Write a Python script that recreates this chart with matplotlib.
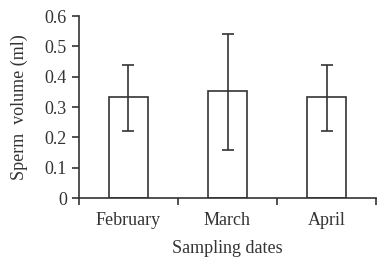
import numpy as np
import matplotlib.pyplot as plt

months = ["February", "March", "April"]
volume = [0.333, 0.353, 0.333]
err_low = [0.113, 0.193, 0.113]
err_high = [0.107, 0.187, 0.107]

plt.rcParams['font.family'] = ['Liberation Serif', 'DejaVu Serif']
plt.rcParams['font.size'] = 13

fig = plt.figure(figsize=(3.83, 2.6), dpi=100)
ax = fig.add_axes([0.206, 0.238, 0.776, 0.70])

x = np.arange(len(months))
ax.bar(x, volume, width=0.4, color='white', edgecolor='#333333', linewidth=1.2,
       yerr=[err_low, err_high], capsize=4.5,
       error_kw=dict(ecolor='#333333', elinewidth=1.2, capthick=1.2))

ax.set_xlim(-0.5, 2.5)
ax.set_ylim(0, 0.6)
ax.set_yticks([0, 0.1, 0.2, 0.3, 0.4, 0.5, 0.6])
ax.set_yticklabels(["0", "0.1", "0.2", "0.3", "0.4", "0.5", "0.6"])
ax.set_xticks(x)
ax.set_xticklabels(months)
ax.set_xticks([-0.5, 0.5, 1.5, 2.5], minor=True)
ax.tick_params(axis='x', which='major', length=0, pad=10, colors='#333333')
ax.tick_params(axis='x', which='minor', length=5, width=1.2, direction='out', color='#333333')
ax.tick_params(axis='y', length=5, width=1.2, direction='out', colors='#333333')

for s in ['top', 'right']:
    ax.spines[s].set_visible(False)
for s in ['left', 'bottom']:
    ax.spines[s].set_linewidth(1.2)
    ax.spines[s].set_color('#333333')

ax.set_ylabel("Sperm  volume (ml)", color='#333333', labelpad=12)
ax.set_xlabel("Sampling dates", color='#333333', labelpad=8)

plt.savefig("out.png", dpi=100)
